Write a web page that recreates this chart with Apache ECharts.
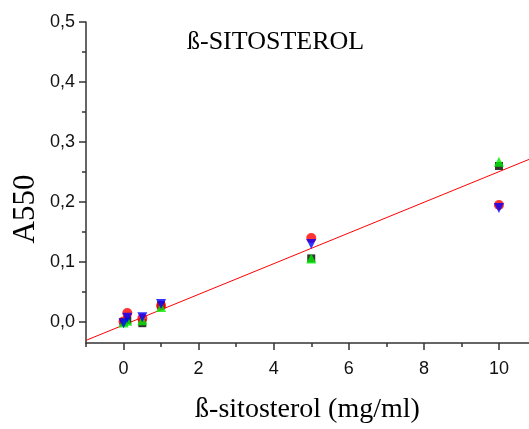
<!DOCTYPE html>
<html>
<head>
<meta charset="utf-8">
<script src="https://cdn.jsdelivr.net/npm/echarts@6/dist/echarts.min.js"></script>
<style>
  html, body { margin: 0; padding: 0; background: #fff; }
  #chart { width: 529px; height: 429px; }
</style>
</head>
<body>
<div id="chart"></div>
<script>
// concentrations (mg/ml)
const conc = [0, 0.1, 0.5, 1, 5, 10];
// A550 readings per replicate
const repBlack = [0, 0.003, -0.002, 0.028, 0.106, 0.260];
const repRed = [0.001, 0.015, 0.006, 0.027, 0.140, 0.195];
const repGreen = [-0.001, 0.002, 0.003, 0.025, 0.106, 0.267];
const repBlue = [-0.002, 0.007, 0.008, 0.030, 0.130, 0.190];
// fitted line ends
const fitX = [-1, 10.8];
const fitY = [-0.0306, 0.2710];

const xMajor = [0, 2, 4, 6, 8, 10];
const xMinor = [-1, 1, 3, 5, 7, 9];
const yMajor = [0, 0.1, 0.2, 0.3, 0.4, 0.5];
const yMinor = [0.05, 0.15, 0.25, 0.35, 0.45];

const axisColor = '#333';
const pairs = (ys) => conc.map((x, i) => [x, ys[i]]);

const chart = echarts.init(document.getElementById('chart'));

chart.setOption({
  animation: false,
  title: {
    text: 'ß-SITOSTEROL',
    left: 182,
    top: 24,
    textStyle: { fontFamily: 'Liberation Serif', fontSize: 26, fontWeight: 'normal', color: '#000' }
  },
  grid: { left: 86, right: 0, top: 22, bottom: 83 },
  xAxis: [
    {
      type: 'value', min: -1, max: 10.8,
      name: 'ß-sitosterol (mg/ml)',
      nameLocation: 'middle',
      nameGap: 53,
      nameTextStyle: { fontFamily: 'Liberation Serif', fontSize: 28, color: '#000' },
      axisLine: { onZero: false, lineStyle: { color: axisColor, width: 1.5 } },
      axisTick: { customValues: xMajor, length: 7, lineStyle: { color: axisColor, width: 1.5 } },
      axisLabel: {
        customValues: xMajor, margin: 17,
        fontFamily: 'Liberation Sans', fontSize: 18, color: '#111'
      },
      splitLine: { show: false }
    },
    {
      type: 'value', min: -1, max: 10.8, position: 'bottom',
      axisLine: { show: false, onZero: false },
      axisTick: { customValues: xMinor, length: 4, lineStyle: { color: axisColor, width: 1.5 } },
      axisLabel: { show: false },
      splitLine: { show: false }
    }
  ],
  yAxis: [
    {
      type: 'value', min: -0.035, max: 0.5,
      axisLine: { onZero: false, lineStyle: { color: axisColor, width: 1.5 } },
      axisTick: { customValues: yMajor, length: 7, lineStyle: { color: axisColor, width: 1.5 } },
      axisLabel: {
        customValues: yMajor, margin: 11,
        fontFamily: 'Liberation Sans', fontSize: 18, color: '#111',
        formatter: (v) => v.toFixed(1).replace('.', ',')
      },
      splitLine: { show: false }
    },
    {
      type: 'value', min: -0.035, max: 0.5, position: 'left',
      axisLine: { show: false, onZero: false },
      axisTick: { customValues: yMinor, length: 4, lineStyle: { color: axisColor, width: 1.5 } },
      axisLabel: { show: false },
      splitLine: { show: false }
    }
  ],
  graphic: [
    {
      type: 'text', x: 26, y: 209, rotation: Math.PI / 2,
      style: {
        text: 'A550', font: '31px "Liberation Serif"', fill: '#000',
        textAlign: 'center', textVerticalAlign: 'middle'
      }
    }
  ],
  series: [
    {
      type: 'line', data: fitX.map((x, i) => [x, fitY[i]]),
      showSymbol: false, z: 1,
      lineStyle: { color: '#ff0000', width: 1 }
    },
    { type: 'scatter', data: pairs(repBlack), symbol: 'rect', symbolSize: 8, itemStyle: { color: '#000' }, z: 2 },
    { type: 'scatter', data: pairs(repRed), symbol: 'circle', symbolSize: 10, itemStyle: { color: '#ff0000' }, z: 3 },
    { type: 'scatter', data: pairs(repGreen), symbol: 'triangle', symbolSize: 10, itemStyle: { color: '#00ee00' }, z: 4 },
    { type: 'scatter', data: pairs(repBlue), symbol: 'triangle', symbolRotate: 180, symbolSize: 10, itemStyle: { color: '#0000ff' }, z: 5 }
  ]
});
</script>
</body>
</html>
